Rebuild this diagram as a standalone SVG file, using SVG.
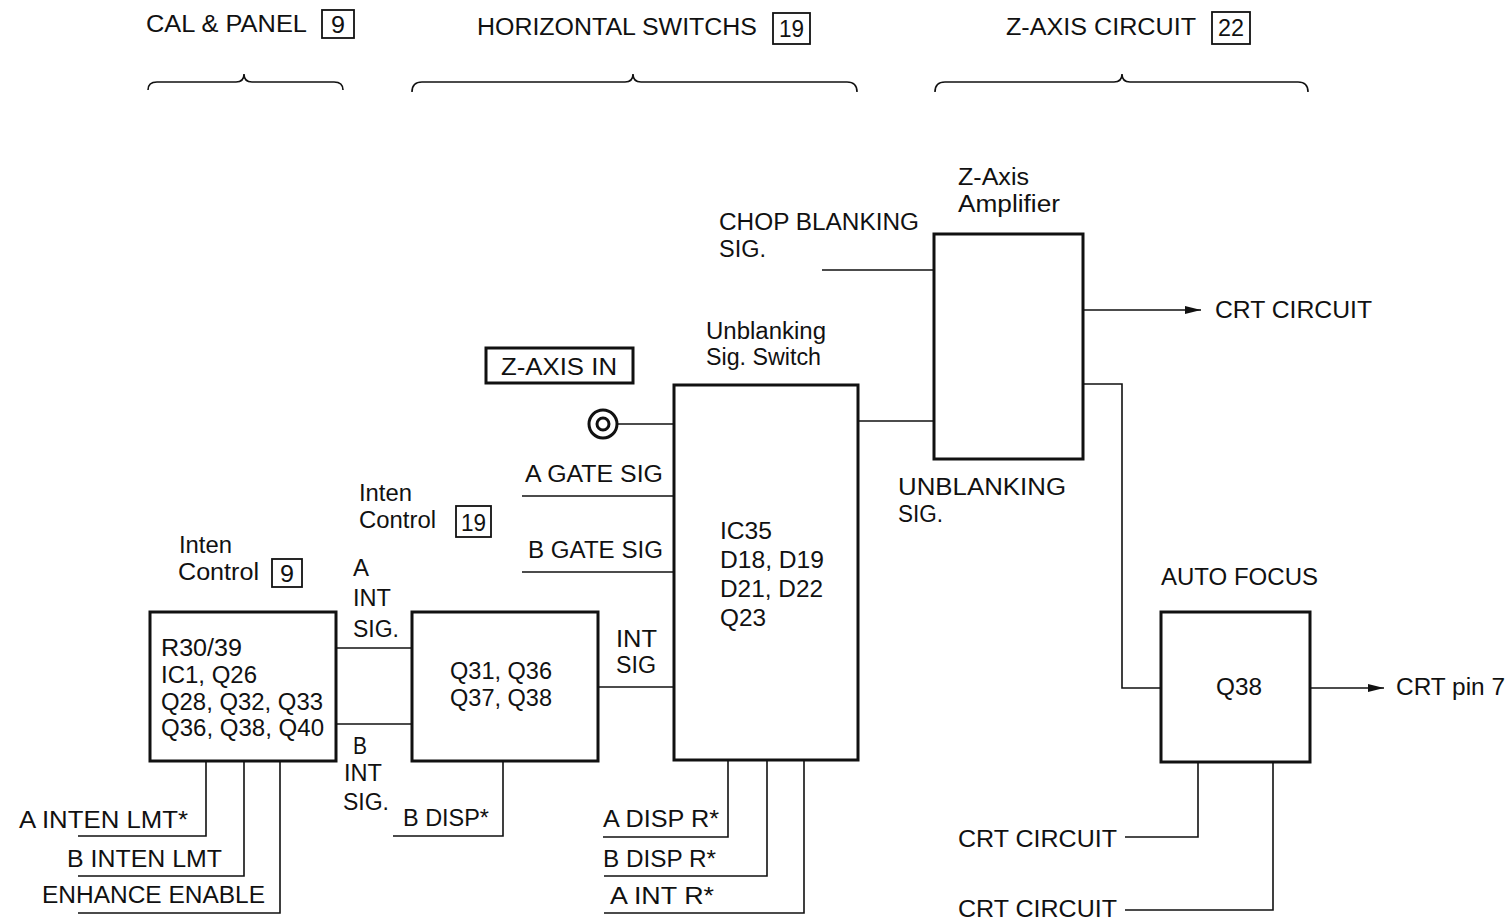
<svg xmlns="http://www.w3.org/2000/svg" width="1506" height="921" viewBox="0 0 1506 921">
<style>
text{font-family:"Liberation Sans",Arial,sans-serif;font-size:23px;fill:#111}
.box{fill:none;stroke:#111;stroke-width:3}
.ref{fill:none;stroke:#111;stroke-width:1.8}
.ln{fill:none;stroke:#111;stroke-width:1.6}
.br{fill:none;stroke:#111;stroke-width:1.6}
</style>
<defs>
<marker id="arr" viewBox="0 0 16 8" refX="16" refY="4" markerWidth="16" markerHeight="8" markerUnits="userSpaceOnUse" orient="auto">
<path d="M0,0 L16,4 L0,8 Z" fill="#111"/>
</marker>
</defs>
<rect width="1506" height="921" fill="#fff"/>

<g id="headers">
<text x="146" y="32" textLength="161" lengthAdjust="spacingAndGlyphs">CAL &amp; PANEL</text>
<rect class="ref" x="322" y="10" width="32" height="28"/>
<text x="331" y="33" textLength="14" lengthAdjust="spacingAndGlyphs">9</text>
<text x="477" y="35" textLength="280" lengthAdjust="spacingAndGlyphs">HORIZONTAL SWITCHS</text>
<rect class="ref" x="773" y="13" width="37" height="31"/>
<text x="779" y="37" textLength="25" lengthAdjust="spacingAndGlyphs">19</text>
<text x="1006" y="35" textLength="190" lengthAdjust="spacingAndGlyphs">Z-AXIS CIRCUIT</text>
<rect class="ref" x="1212" y="12" width="38" height="32"/>
<text x="1218" y="36" textLength="26" lengthAdjust="spacingAndGlyphs">22</text>
<path class="br" d="M148,90 Q148,82 157,82 L236,82 Q244,82 244,74 Q244,82 252,82 L334,82 Q343,82 343,90"/>
<path class="br" d="M412,92 Q412,82 422,82 L625,82 Q633,82 633,74 Q633,82 641,82 L847,82 Q857,82 857,92"/>
<path class="br" d="M935,92 Q935,82 945,82 L1114,82 Q1122,82 1122,74 Q1122,82 1130,82 L1298,82 Q1308,82 1308,92"/>
</g>

<g id="inten9">
<text x="179" y="553" textLength="53" lengthAdjust="spacingAndGlyphs">Inten</text>
<text x="178" y="580" textLength="81" lengthAdjust="spacingAndGlyphs">Control</text>
<rect class="ref" x="272" y="559" width="30" height="28"/>
<text x="280" y="582" textLength="14" lengthAdjust="spacingAndGlyphs">9</text>
<rect class="box" x="150" y="612" width="186" height="149"/>
<text x="161" y="656" textLength="81" lengthAdjust="spacingAndGlyphs">R30/39</text>
<text x="161" y="683" textLength="96" lengthAdjust="spacingAndGlyphs">IC1, Q26</text>
<text x="161" y="710" textLength="162" lengthAdjust="spacingAndGlyphs">Q28, Q32, Q33</text>
<text x="161" y="736" textLength="163" lengthAdjust="spacingAndGlyphs">Q36, Q38, Q40</text>
</g>

<g id="inten19">
<text x="359" y="501" textLength="53" lengthAdjust="spacingAndGlyphs">Inten</text>
<text x="359" y="528" textLength="77" lengthAdjust="spacingAndGlyphs">Control</text>
<rect class="ref" x="456" y="506" width="35" height="31"/>
<text x="461" y="531" textLength="25" lengthAdjust="spacingAndGlyphs">19</text>
<rect class="box" x="412" y="612" width="186" height="149"/>
<text x="450" y="679" textLength="102" lengthAdjust="spacingAndGlyphs">Q31, Q36</text>
<text x="450" y="706" textLength="102" lengthAdjust="spacingAndGlyphs">Q37, Q38</text>
</g>

<g id="unblanking">
<text x="706" y="339" textLength="120" lengthAdjust="spacingAndGlyphs">Unblanking</text>
<text x="706" y="365" textLength="115" lengthAdjust="spacingAndGlyphs">Sig. Switch</text>
<rect class="box" x="674" y="385" width="184" height="375"/>
<text x="720" y="539" textLength="52" lengthAdjust="spacingAndGlyphs">IC35</text>
<text x="720" y="568" textLength="104" lengthAdjust="spacingAndGlyphs">D18, D19</text>
<text x="720" y="597" textLength="103" lengthAdjust="spacingAndGlyphs">D21, D22</text>
<text x="720" y="626" textLength="46" lengthAdjust="spacingAndGlyphs">Q23</text>
</g>

<g id="zaxisamp">
<text x="958" y="185" textLength="71" lengthAdjust="spacingAndGlyphs">Z-Axis</text>
<text x="958" y="212" textLength="102" lengthAdjust="spacingAndGlyphs">Amplifier</text>
<rect class="box" x="934" y="234" width="149" height="225"/>
</g>

<g id="autofocus">
<text x="1161" y="585" textLength="157" lengthAdjust="spacingAndGlyphs">AUTO FOCUS</text>
<rect class="box" x="1161" y="612" width="149" height="150"/>
<text x="1216" y="695" textLength="46" lengthAdjust="spacingAndGlyphs">Q38</text>
</g>

<g id="zaxisin">
<rect class="box" x="486" y="348" width="147" height="35" stroke-width="2.5"/>
<text x="501" y="375" textLength="116" lengthAdjust="spacingAndGlyphs">Z-AXIS IN</text>
<circle cx="603" cy="424" r="14" fill="none" stroke="#111" stroke-width="3"/>
<circle cx="603" cy="424" r="6" fill="none" stroke="#111" stroke-width="3"/>
</g>

<g id="labels">
<text x="719" y="230" textLength="200" lengthAdjust="spacingAndGlyphs">CHOP BLANKING</text>
<text x="719" y="257" textLength="47" lengthAdjust="spacingAndGlyphs">SIG.</text>
<text x="1215" y="318" textLength="157" lengthAdjust="spacingAndGlyphs">CRT CIRCUIT</text>
<text x="525" y="482" textLength="138" lengthAdjust="spacingAndGlyphs">A GATE SIG</text>
<text x="528" y="558" textLength="135" lengthAdjust="spacingAndGlyphs">B GATE SIG</text>
<text x="898" y="495" textLength="168" lengthAdjust="spacingAndGlyphs">UNBLANKING</text>
<text x="898" y="522" textLength="45" lengthAdjust="spacingAndGlyphs">SIG.</text>
<text x="353" y="576" textLength="16" lengthAdjust="spacingAndGlyphs">A</text>
<text x="353" y="606" textLength="38" lengthAdjust="spacingAndGlyphs">INT</text>
<text x="353" y="637" textLength="46" lengthAdjust="spacingAndGlyphs">SIG.</text>
<text x="353" y="754" textLength="14" lengthAdjust="spacingAndGlyphs">B</text>
<text x="344" y="781" textLength="38" lengthAdjust="spacingAndGlyphs">INT</text>
<text x="343" y="810" textLength="46" lengthAdjust="spacingAndGlyphs">SIG.</text>
<text x="616" y="647" textLength="41" lengthAdjust="spacingAndGlyphs">INT</text>
<text x="616" y="673" textLength="40" lengthAdjust="spacingAndGlyphs">SIG</text>
<text x="1396" y="695" textLength="109" lengthAdjust="spacingAndGlyphs">CRT pin 7</text>
<text x="19" y="828" textLength="169" lengthAdjust="spacingAndGlyphs">A INTEN LMT*</text>
<text x="67" y="867" textLength="155" lengthAdjust="spacingAndGlyphs">B INTEN LMT</text>
<text x="42" y="903" textLength="223" lengthAdjust="spacingAndGlyphs">ENHANCE ENABLE</text>
<text x="403" y="826" textLength="86" lengthAdjust="spacingAndGlyphs">B DISP*</text>
<text x="603" y="827" textLength="116" lengthAdjust="spacingAndGlyphs">A DISP R*</text>
<text x="603" y="867" textLength="113" lengthAdjust="spacingAndGlyphs">B DISP R*</text>
<text x="610" y="904" textLength="104" lengthAdjust="spacingAndGlyphs">A INT R*</text>
<text x="958" y="847" textLength="159" lengthAdjust="spacingAndGlyphs">CRT CIRCUIT</text>
<text x="958" y="917" textLength="159" lengthAdjust="spacingAndGlyphs">CRT CIRCUIT</text>
</g>

<g id="connectors">
<line class="ln" x1="336" y1="648" x2="412" y2="648"/>
<line class="ln" x1="336" y1="724" x2="412" y2="724"/>
<line class="ln" x1="598" y1="687" x2="674" y2="687"/>
<line class="ln" x1="617" y1="424" x2="674" y2="424"/>
<line class="ln" x1="522" y1="496" x2="674" y2="496"/>
<line class="ln" x1="522" y1="572" x2="674" y2="572"/>
<line class="ln" x1="858" y1="421" x2="934" y2="421"/>
<line class="ln" x1="822" y1="270" x2="934" y2="270"/>
<line class="ln" x1="1083" y1="310" x2="1201" y2="310" marker-end="url(#arr)"/>
<polyline class="ln" points="1083,384 1122,384 1122,688 1161,688"/>
<line class="ln" x1="1310" y1="688" x2="1384" y2="688" marker-end="url(#arr)"/>
<polyline class="ln" points="1198,762 1198,837 1125,837"/>
<polyline class="ln" points="1273,762 1273,910 1125,910"/>
<polyline class="ln" points="206,761 206,836 78,836"/>
<polyline class="ln" points="244,761 244,876 78,876"/>
<polyline class="ln" points="280,761 280,913 78,913"/>
<polyline class="ln" points="503,761 503,836 393,836"/>
<polyline class="ln" points="728,760 728,837 603,837"/>
<polyline class="ln" points="767,760 767,876 604,876"/>
<polyline class="ln" points="804,760 804,913 604,913"/>
</g>
</svg>
